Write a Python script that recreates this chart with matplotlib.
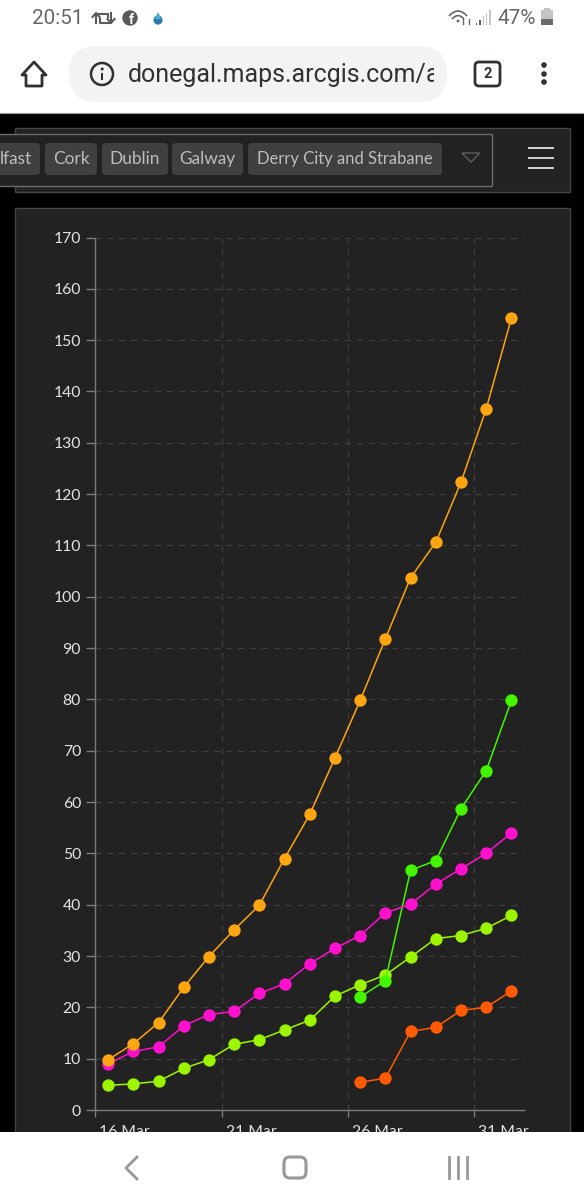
import matplotlib
matplotlib.use("Agg")
import matplotlib.pyplot as plt
from matplotlib.patches import Rectangle, FancyBboxPatch, Circle, Polygon, PathPatch
from matplotlib.path import Path
from matplotlib.ticker import FixedLocator, FixedFormatter
from matplotlib.transforms import ScaledTranslation

W, H = 584, 1200
plt.rcParams['font.family'] = ['Lato', 'DejaVu Sans']

# ---- data -------------------------------------------------------------
tick_days = [0, 5, 10, 15]
tick_labels = ['16 Mar', '21 Mar', '26 Mar', '31 Mar']
y_ticks = list(range(0, 171, 10))
days_all = list(range(17))
days_late = list(range(10, 17))

orange_vals = [9.8, 12.9, 17.0, 23.9, 29.9, 35.1, 39.9, 49.0, 57.6, 68.6, 79.8, 91.8, 103.7, 110.6, 122.3, 136.6, 154.3]
magenta_vals = [9.0, 11.4, 12.3, 16.4, 18.6, 19.2, 22.7, 24.6, 28.5, 31.5, 34.0, 38.4, 40.1, 44.0, 47.0, 50.0, 54.0]
lime_vals = [4.8, 5.1, 5.6, 8.1, 9.8, 12.8, 13.7, 15.6, 17.5, 22.2, 24.4, 26.3, 29.8, 33.4, 34.0, 35.4, 37.9]
green_vals = [22.0, 25.2, 46.7, 48.6, 58.7, 66.1, 79.8]
red_vals = [5.4, 6.2, 15.3, 16.1, 19.4, 20.0, 23.2]

chips = ['lfast', 'Cork', 'Dublin', 'Galway', 'Derry City and Strabane']

fig = plt.figure(figsize=(W / 100, H / 100), dpi=100, facecolor='black')


def px_axes(z):
    a = fig.add_axes([0, 0, 1, 1], zorder=z)
    a.set_xlim(0, W)
    a.set_ylim(H, 0)
    a.axis('off')
    return a


bg = px_axes(0)
top = px_axes(5)


def rbox(a, x0, y0, x1, y1, r, **kw):
    p = FancyBboxPatch((x0 + r, y0 + r), x1 - x0 - 2 * r, y1 - y0 - 2 * r,
                       boxstyle=f'round,pad={r},rounding_size={r}', **kw)
    a.add_patch(p)
    return p


# ---- dashboard panels ---------------------------------------------------
bg.add_patch(Rectangle((15, 128), 555, 64, fc='#222222', ec='#444444', lw=1))
bg.add_patch(Rectangle((-5, 134), 497, 52, fc='#222222', ec='#6a6a6a', lw=1))
bg.add_patch(Rectangle((15, 208), 555, 940, fc='#222222', ec='#444444', lw=1))

chip_spans = [(-8, 40), (45, 97), (102, 168), (172, 243), (248, 442)]
for name, (x0, x1) in zip(chips, chip_spans):
    rbox(bg, x0, 143, x1, 175, 4, fc='#404040', ec='none')
    size = 11.95 if name.startswith('Derry') else 12.4
    bg.text((x0 + x1) / 2 if name != 'lfast' else 32, 158.8, name, color='#bdbdbd', fontsize=size,
            ha='center' if name != 'lfast' else 'right', va='center')
bg.add_patch(Polygon([(462, 153), (480, 153), (471, 162)], closed=True, fc='none', ec='#5f5f5f', lw=1))
for y in (148, 158, 168):
    bg.add_patch(Rectangle((528, y - 1.3), 26, 2.6, fc='#cfcfcf', ec='none'))

# ---- chart --------------------------------------------------------------
L, R, T, B = 95.5, 524, 237.5, 1110
ax = fig.add_axes([L / W, 1 - B / H, (R - L) / W, (B - T) / H], zorder=1)
ax.set_facecolor('none')
ax.set_xlim(0, 17)
ax.set_ylim(0, 170)
for s in ('top', 'right'):
    ax.spines[s].set_visible(False)
for s in ('left', 'bottom'):
    ax.spines[s].set_color('#7a7a7a')
    ax.spines[s].set_linewidth(1)
ax.xaxis.set_major_locator(FixedLocator(tick_days))
ax.xaxis.set_major_formatter(FixedFormatter(tick_labels))
ax.yaxis.set_major_locator(FixedLocator(y_ticks))
ax.tick_params(axis='y', colors='#e4e4e4', labelsize=11.3, length=6.5, width=1, color='#7a7a7a', pad=4)
ax.tick_params(axis='x', colors='#e4e4e4', labelsize=11.3, length=5, width=1, color='#7a7a7a', pad=5.5)
for lab in ax.get_xticklabels():
    lab.set_ha('left')
    lab.set_transform(lab.get_transform() + ScaledTranslation(4 / 100, 0, fig.dpi_scale_trans))
ax.grid(True, color='#3e3e3e', lw=0.9, ls=(0, (5, 4.5)))
ax.set_axisbelow(True)


def series(days, vals, color):
    xs = [d + 0.5 for d in days]
    ax.plot(xs, vals, color=color, lw=1.1, marker='o', ms=8.9, mec='none', clip_on=False)


series(days_late, red_vals, '#ff5a00')
series(days_all, lime_vals, '#9bf500')
series(days_late, green_vals, '#44f500')
series(days_all, magenta_vals, '#ff10cf')
series(days_all, orange_vals, '#ffa50f')

# ---- browser chrome -----------------------------------------------------
top.add_patch(Rectangle((0, 0), W, 113, fc='white', ec='none'))
top.add_patch(Rectangle((0, 1132), W, 68, fc='white', ec='none'))
top.plot([0, W], [113, 113], color='#9a9a9a', lw=0.8)

top.text(32, 18, '20:51', family='Roboto', fontsize=14.9, color='#666666', va='center')
top.text(497, 18, '47%', family='Roboto', fontsize=15, color='#666666', va='center')
top.add_patch(Rectangle((541, 19), 12, 6, fc='#6a6a6a', ec='none'))
top.add_patch(Rectangle((541, 10), 12, 9, fc='#c4c4c4', ec='none'))
top.add_patch(Rectangle((544, 8), 6, 2, fc='#c4c4c4', ec='none'))

# retweet, facebook, droplet icons
top.plot([96, 96, 108, 108], [23, 13.5, 13.5, 17], color='#5a5a5a', lw=1.5)
top.plot([92.5, 96, 99.5], [17, 13, 17], color='#5a5a5a', lw=1.5)
top.plot([111, 111, 100, 100], [13, 22.5, 22.5, 19], color='#5a5a5a', lw=1.5)
top.plot([107.5, 111, 114.5], [19, 23, 19], color='#5a5a5a', lw=1.5)
top.add_patch(Circle((130, 18), 7.7, fc='#5a5a5a', ec='none'))
top.text(131, 19.5, 'f', color='white', fontsize=10, family='Roboto', weight='bold', ha='center', va='center')
top.add_patch(Circle((158, 20), 4.6, fc='#2a7ab0', ec='none'))
top.add_patch(Polygon([(158, 12), (154.5, 19), (161.5, 19)], fc='#55acd0', ec='none'))

# status right icons
for i, h in enumerate((2, 5, 9, 12, 15)):
    top.add_patch(Rectangle((476 + i * 3.3, 25 - h), 1.4, h, fc='#5e5e5e' if i < 2 else '#c4c4c4', ec='none'))
wifi = Path([(449, 16), (458, 6), (467, 16)], [Path.MOVETO, Path.CURVE3, Path.CURVE3])
wifi2 = Path([(452, 19), (458, 12), (464, 19)], [Path.MOVETO, Path.CURVE3, Path.CURVE3])
top.add_patch(PathPatch(wifi, fc='none', ec='#666666', lw=1.2))
top.add_patch(PathPatch(wifi2, fc='none', ec='#666666', lw=1.2))
top.add_patch(Circle((458, 21), 1.4, fc='#666666', ec='none'))
top.plot([463, 463], [19, 24], color='#666666', lw=1)
top.plot([469, 469], [19, 24], color='#666666', lw=1)

# url bar
rbox(top, 69, 46, 447, 102, 28, fc='#f1f3f4', ec='none')
clip = Rectangle((120, 46), 314, 56, transform=top.transData)
t = top.text(128, 75, 'donegal.maps.arcgis.com/a', family='Roboto', fontsize=18.0, color='#303134',
             va='center', clip_on=True)
t.set_clip_path(clip)
top.add_patch(Circle((102, 74), 11, fc='none', ec='#303134', lw=1.8))
top.add_patch(Rectangle((101, 73), 2.4, 7, fc='#303134', ec='none'))
top.add_patch(Circle((102.2, 69), 1.5, fc='#303134', ec='none'))

top.add_patch(Polygon([(22, 75), (34, 62), (46, 75), (42, 75), (42, 86), (26, 86), (26, 75)],
                      closed=True, fc='none', ec='#303134', lw=2, joinstyle='round'))
rbox(top, 475, 62, 500, 86, 4, fc='none', ec='#303134', lw=2)
top.text(487.5, 74.5, '2', family='Roboto', weight='bold', fontsize=10.5, color='#303134', ha='center', va='center')
for y in (65, 74, 82):
    top.add_patch(Circle((544, y), 2.8, fc='#303134', ec='none'))

# nav bar
top.plot([137, 126, 137], [1157, 1168, 1179], color='#989898', lw=2.0)
rbox(top, 284, 1157, 306, 1178, 6, fc='none', ec='#989898', lw=2.2)
for x in (449, 458, 467):
    top.plot([x, x], [1157, 1178], color='#989898', lw=2.0)

fig.savefig('out.png', dpi=100, facecolor='black')
